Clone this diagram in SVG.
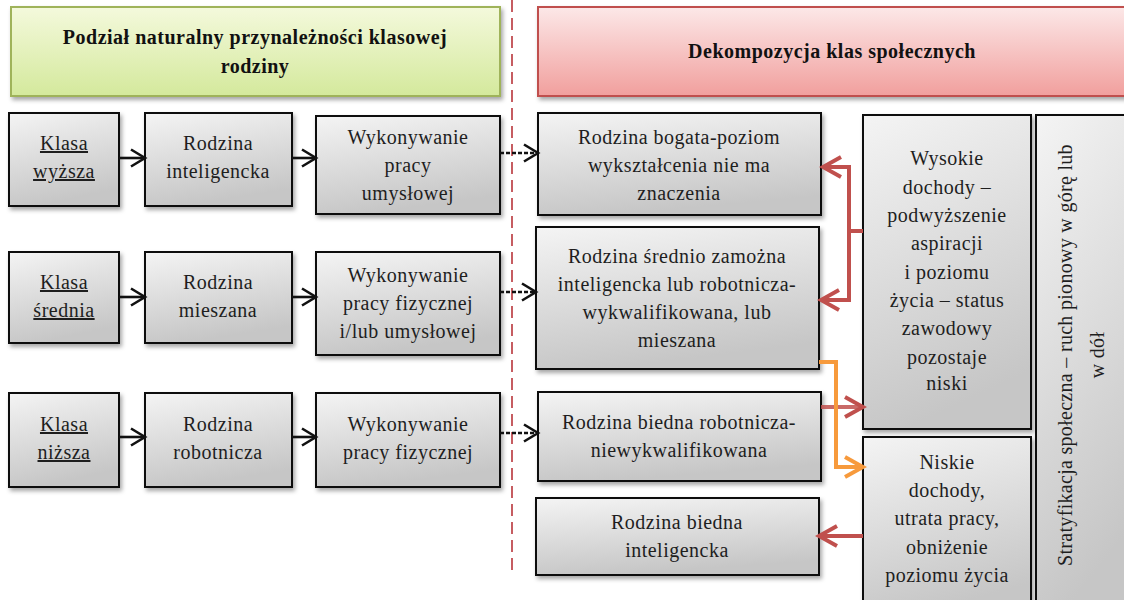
<svg xmlns="http://www.w3.org/2000/svg" width="1124" height="600" viewBox="0 0 1124 600">
  <defs>
    <linearGradient id="gBox" x1="0" y1="0" x2="0.25" y2="1">
      <stop offset="0" stop-color="#f4f4f4"/>
      <stop offset="1" stop-color="#c6c6c6"/>
    </linearGradient>
    <linearGradient id="gGreen" x1="0" y1="0" x2="0" y2="1">
      <stop offset="0" stop-color="#f4f9dc"/>
      <stop offset="1" stop-color="#d4e99c"/>
    </linearGradient>
    <linearGradient id="gRed" x1="0" y1="0" x2="0" y2="1">
      <stop offset="0" stop-color="#fce8e8"/>
      <stop offset="1" stop-color="#f19f9d"/>
    </linearGradient>
    <filter id="sh" x="-10%" y="-10%" width="130%" height="130%">
      <feDropShadow dx="2" dy="3" stdDeviation="2" flood-color="#000" flood-opacity="0.35"/>
    </filter>
    <marker id="mBlack" markerUnits="userSpaceOnUse" markerWidth="20" markerHeight="22" refX="16" refY="10" orient="auto">
      <path d="M2,1.5 L16,10 L2,18.5" fill="none" stroke="#111" stroke-width="2.6"/>
    </marker>
    <marker id="mRed" markerUnits="userSpaceOnUse" markerWidth="24" markerHeight="26" refX="20" refY="12" orient="auto">
      <path d="M2,2 L20,12 L2,22" fill="none" stroke="#c0504d" stroke-width="4"/>
    </marker>
    <marker id="mOrange" markerUnits="userSpaceOnUse" markerWidth="24" markerHeight="26" refX="20" refY="12" orient="auto">
      <path d="M2,2 L20,12 L2,22" fill="none" stroke="#f79a3c" stroke-width="4"/>
    </marker>
  </defs>
  <style>
    .box { fill: url(#gBox); stroke: #111; stroke-width: 2; filter: url(#sh); }
    .hdrL { fill: url(#gGreen); stroke: #9fb35a; stroke-width: 2; filter: url(#sh); }
    .hdrR { fill: url(#gRed); stroke: #c0504d; stroke-width: 2; filter: url(#sh); }
    .t { font-family: "Liberation Serif", "Times New Roman", serif; font-size: 20px; fill: #1e1e1e; text-anchor: middle; letter-spacing: 0.5px; }
    .b { font-weight: bold; fill: #111; }
    .u { text-decoration: underline; }
    .solid { fill: none; stroke: #111; stroke-width: 2.6; marker-end: url(#mBlack); }
    .dotted { fill: none; stroke: #111; stroke-width: 2.4; stroke-dasharray: 4 2; marker-end: url(#mBlack); }
    .red { fill: none; stroke: #c0504d; stroke-width: 4; }
    .orange { fill: none; stroke: #f79a3c; stroke-width: 4; }
  </style>

  <rect width="1124" height="600" fill="#ffffff"/>

  <!-- section headers -->
  <g id="header-left">
    <rect class="hdrL" x="11" y="7" width="489" height="89"/>
    <text class="t b" x="255" y="44">Podział naturalny przynależności klasowej</text>
    <text class="t b" x="255" y="73">rodziny</text>
  </g>
  <g id="header-right">
    <rect class="hdrR" x="538" y="7" width="590" height="89"/>
    <text class="t b" x="832" y="58">Dekompozycja klas społecznych</text>
  </g>

  <!-- divider between the two halves -->
  <line id="divider" x1="512" y1="0" x2="512" y2="573" stroke="#b8353b" stroke-width="1.6" stroke-dasharray="12 6"/>

  <!-- row 1 -->
  <g id="klasa-wyzsza">
    <rect class="box" x="9" y="113" width="110" height="93"/>
    <text class="t u" x="64" y="150">Klasa</text>
    <text class="t u" x="64" y="178">wyższa</text>
  </g>
  <g id="rodzina-inteligencka">
    <rect class="box" x="145" y="113" width="147" height="93"/>
    <text class="t" x="218" y="150">Rodzina</text>
    <text class="t" x="218" y="178">inteligencka</text>
  </g>
  <g id="praca-umyslowa">
    <rect class="box" x="316" y="116" width="184" height="98"/>
    <text class="t" x="408" y="144">Wykonywanie</text>
    <text class="t" x="408" y="172">pracy</text>
    <text class="t" x="408" y="200">umysłowej</text>
  </g>

  <!-- row 2 -->
  <g id="klasa-srednia">
    <rect class="box" x="9" y="252" width="110" height="91"/>
    <text class="t u" x="64" y="289">Klasa</text>
    <text class="t u" x="64" y="317">średnia</text>
  </g>
  <g id="rodzina-mieszana">
    <rect class="box" x="145" y="252" width="147" height="91"/>
    <text class="t" x="218" y="289">Rodzina</text>
    <text class="t" x="218" y="317">mieszana</text>
  </g>
  <g id="praca-mieszana">
    <rect class="box" x="316" y="252" width="184" height="103"/>
    <text class="t" x="408" y="282">Wykonywanie</text>
    <text class="t" x="408" y="310">pracy fizycznej</text>
    <text class="t" x="408" y="338">i/lub umysłowej</text>
  </g>

  <!-- row 3 -->
  <g id="klasa-nizsza">
    <rect class="box" x="9" y="393" width="110" height="94"/>
    <text class="t u" x="64" y="431">Klasa</text>
    <text class="t u" x="64" y="459">niższa</text>
  </g>
  <g id="rodzina-robotnicza">
    <rect class="box" x="145" y="393" width="147" height="94"/>
    <text class="t" x="218" y="431">Rodzina</text>
    <text class="t" x="218" y="459">robotnicza</text>
  </g>
  <g id="praca-fizyczna">
    <rect class="box" x="316" y="393" width="184" height="94"/>
    <text class="t" x="408" y="431">Wykonywanie</text>
    <text class="t" x="408" y="459">pracy fizycznej</text>
  </g>

  <!-- decomposition column -->
  <g id="rodzina-bogata">
    <rect class="box" x="538" y="113" width="283" height="102"/>
    <text class="t" x="679" y="144">Rodzina bogata-poziom</text>
    <text class="t" x="679" y="172">wykształcenia nie ma</text>
    <text class="t" x="679" y="200">znaczenia</text>
  </g>
  <g id="rodzina-srednio-zamozna">
    <rect class="box" x="536" y="227" width="283" height="142"/>
    <text class="t" x="677" y="263">Rodzina średnio zamożna</text>
    <text class="t" x="677" y="291">inteligencka lub robotnicza-</text>
    <text class="t" x="677" y="319">wykwalifikowana, lub</text>
    <text class="t" x="677" y="347">mieszana</text>
  </g>
  <g id="rodzina-biedna-robotnicza">
    <rect class="box" x="538" y="392" width="283" height="89"/>
    <text class="t" x="679" y="429">Rodzina biedna robotnicza-</text>
    <text class="t" x="679" y="457">niewykwalifikowana</text>
  </g>
  <g id="rodzina-biedna-inteligencka">
    <rect class="box" x="536" y="498" width="283" height="77"/>
    <text class="t" x="677" y="529">Rodzina biedna</text>
    <text class="t" x="677" y="557">inteligencka</text>
  </g>

  <!-- income boxes -->
  <g id="wysokie-dochody">
    <rect class="box" x="863" y="115" width="168" height="314"/>
    <text class="t" x="947" y="165">Wysokie</text>
    <text class="t" x="947" y="194">dochody –</text>
    <text class="t" x="947" y="222">podwyższenie</text>
    <text class="t" x="947" y="250">aspiracji</text>
    <text class="t" x="947" y="279">i poziomu</text>
    <text class="t" x="947" y="307">życia – status</text>
    <text class="t" x="947" y="335">zawodowy</text>
    <text class="t" x="947" y="364">pozostaje</text>
    <text class="t" x="947" y="390">niski</text>
  </g>
  <g id="niskie-dochody">
    <rect class="box" x="863" y="437" width="168" height="180"/>
    <text class="t" x="947" y="469">Niskie</text>
    <text class="t" x="947" y="497">dochody,</text>
    <text class="t" x="947" y="525">utrata pracy,</text>
    <text class="t" x="947" y="554">obniżenie</text>
    <text class="t" x="947" y="582">poziomu życia</text>
  </g>

  <!-- vertical stratification bar -->
  <g id="stratyfikacja">
    <rect class="box" x="1036" y="115" width="100" height="500"/>
    <g transform="translate(1072,355) rotate(-90)">
      <text class="t" x="0" y="0" style="letter-spacing:0.3px">Stratyfikacja społeczna – ruch pionowy w górę lub</text>
      <text class="t" x="0" y="32" style="letter-spacing:0.3px">w dół</text>
    </g>
  </g>

  <!-- connectors -->
  <g id="connectors">
    <line class="solid" x1="119" y1="158" x2="145" y2="158"/>
    <line class="solid" x1="292" y1="158" x2="316" y2="158"/>
    <line class="dotted" x1="500" y1="153" x2="538" y2="153"/>

    <line class="solid" x1="119" y1="297" x2="145" y2="297"/>
    <line class="solid" x1="292" y1="297" x2="316" y2="297"/>
    <line class="dotted" x1="500" y1="292" x2="536" y2="292"/>

    <line class="solid" x1="119" y1="437" x2="145" y2="437"/>
    <line class="solid" x1="292" y1="437" x2="316" y2="437"/>
    <line class="dotted" x1="500" y1="433" x2="538" y2="433"/>

    <!-- high income feeds the two upper families -->
    <line class="red" x1="863" y1="231" x2="849" y2="231"/>
    <path class="red" d="M849,231 V167 H823" marker-end="url(#mRed)"/>
    <path class="red" d="M849,231 V300 H821" marker-end="url(#mRed)"/>

    <!-- poor working-class family toward high income -->
    <line class="red" x1="821" y1="407" x2="863" y2="407" stroke-opacity="0.85" marker-end="url(#mRed)"/>

    <!-- middle family toward low income -->
    <path class="orange" d="M819,362 H836 V467 H863" marker-end="url(#mOrange)"/>

    <!-- low income to poor intelligentsia family -->
    <line class="red" x1="863" y1="536" x2="819" y2="536" marker-end="url(#mRed)"/>
  </g>
</svg>
